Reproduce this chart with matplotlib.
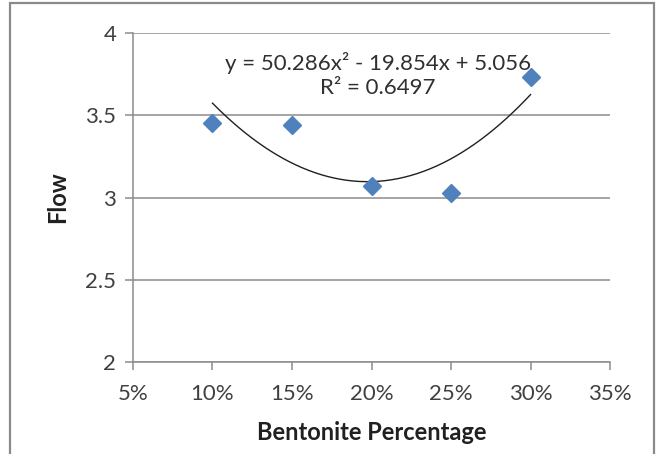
import numpy as np
import matplotlib
matplotlib.use("Agg")
import matplotlib.pyplot as plt
from matplotlib.patches import Rectangle
from matplotlib.ticker import FixedLocator

# data
bentonite = [0.10, 0.15, 0.20, 0.25, 0.30]
flow = [3.45, 3.44, 3.07, 3.03, 3.73]

# excel polynomial trendline (order 2) as printed on the chart
trend_coef = [50.286, -19.854, 5.056]
r_squared = 0.6497

x_ticks = [0.05, 0.10, 0.15, 0.20, 0.25, 0.30, 0.35]
x_ticklabels = ["5%", "10%", "15%", "20%", "25%", "30%", "35%"]
y_ticks = [2, 2.5, 3, 3.5, 4]
y_ticklabels = ["2", "2.5", "3", "3.5", "4"]

GRID = "#8c8c8c"
BLUE = "#4f81bd"

plt.rcParams["font.family"] = ["Lato", "DejaVu Sans"]

fig = plt.figure(figsize=(6.57, 4.54), dpi=100)
ax = fig.add_axes([0.2024, 0.2026, 0.7261, 0.7247])

# outer chart border (bottom is cut off in the reference)
fig.patches.append(Rectangle((10 / 657, -0.05), 644 / 657, 1.05 - 3 / 454,
                             transform=fig.transFigure, fill=False,
                             edgecolor="#8a8a8a", linewidth=1.6))

ax.set_xlim(0.05, 0.35)
ax.set_ylim(2, 4)

ax.yaxis.set_major_locator(FixedLocator(y_ticks))
ax.set_yticklabels(y_ticklabels)
ax.xaxis.set_major_locator(FixedLocator(x_ticks))
ax.set_xticklabels(x_ticklabels)

ax.grid(axis="y", color=GRID, linewidth=1.1)
ax.set_axisbelow(True)
for side in ["top", "right"]:
    ax.spines[side].set_visible(False)
for side in ["left", "bottom"]:
    ax.spines[side].set_color(GRID)
    ax.spines[side].set_linewidth(1.1)

ax.tick_params(axis="both", direction="out", length=6, width=1.1,
               color=GRID, labelsize=16, labelcolor="#404040")
ax.tick_params(axis="y", pad=6)
ax.tick_params(axis="x", pad=10)

xs = np.linspace(bentonite[0], bentonite[-1], 200)
ax.plot(xs, np.polyval(trend_coef, xs), color="#202020", linewidth=1.0, zorder=2)

ax.plot(bentonite, flow, linestyle="none", marker="D", markersize=9.5,
        color=BLUE, markeredgecolor=BLUE, zorder=3)

eq = "y = {:.3f}x\u00b2 - {:.3f}x + {:.3f}".format(trend_coef[0], -trend_coef[1], trend_coef[2])
ax.text(0.5136, 0.909, eq, transform=ax.transAxes, ha="center", va="center",
        fontsize=16, color="#303030")
ax.text(0.5136, 0.833, "R\u00b2 = {}".format(r_squared), transform=ax.transAxes,
        ha="center", va="center", fontsize=16, color="#303030")

ax.set_xlabel("Bentonite Percentage", fontsize=17, fontweight="bold",
              color="#202020", labelpad=12)
ax.set_ylabel("Flow", fontsize=17, fontweight="bold", color="#202020",
              labelpad=12)

fig.savefig("out.png", dpi=100)
